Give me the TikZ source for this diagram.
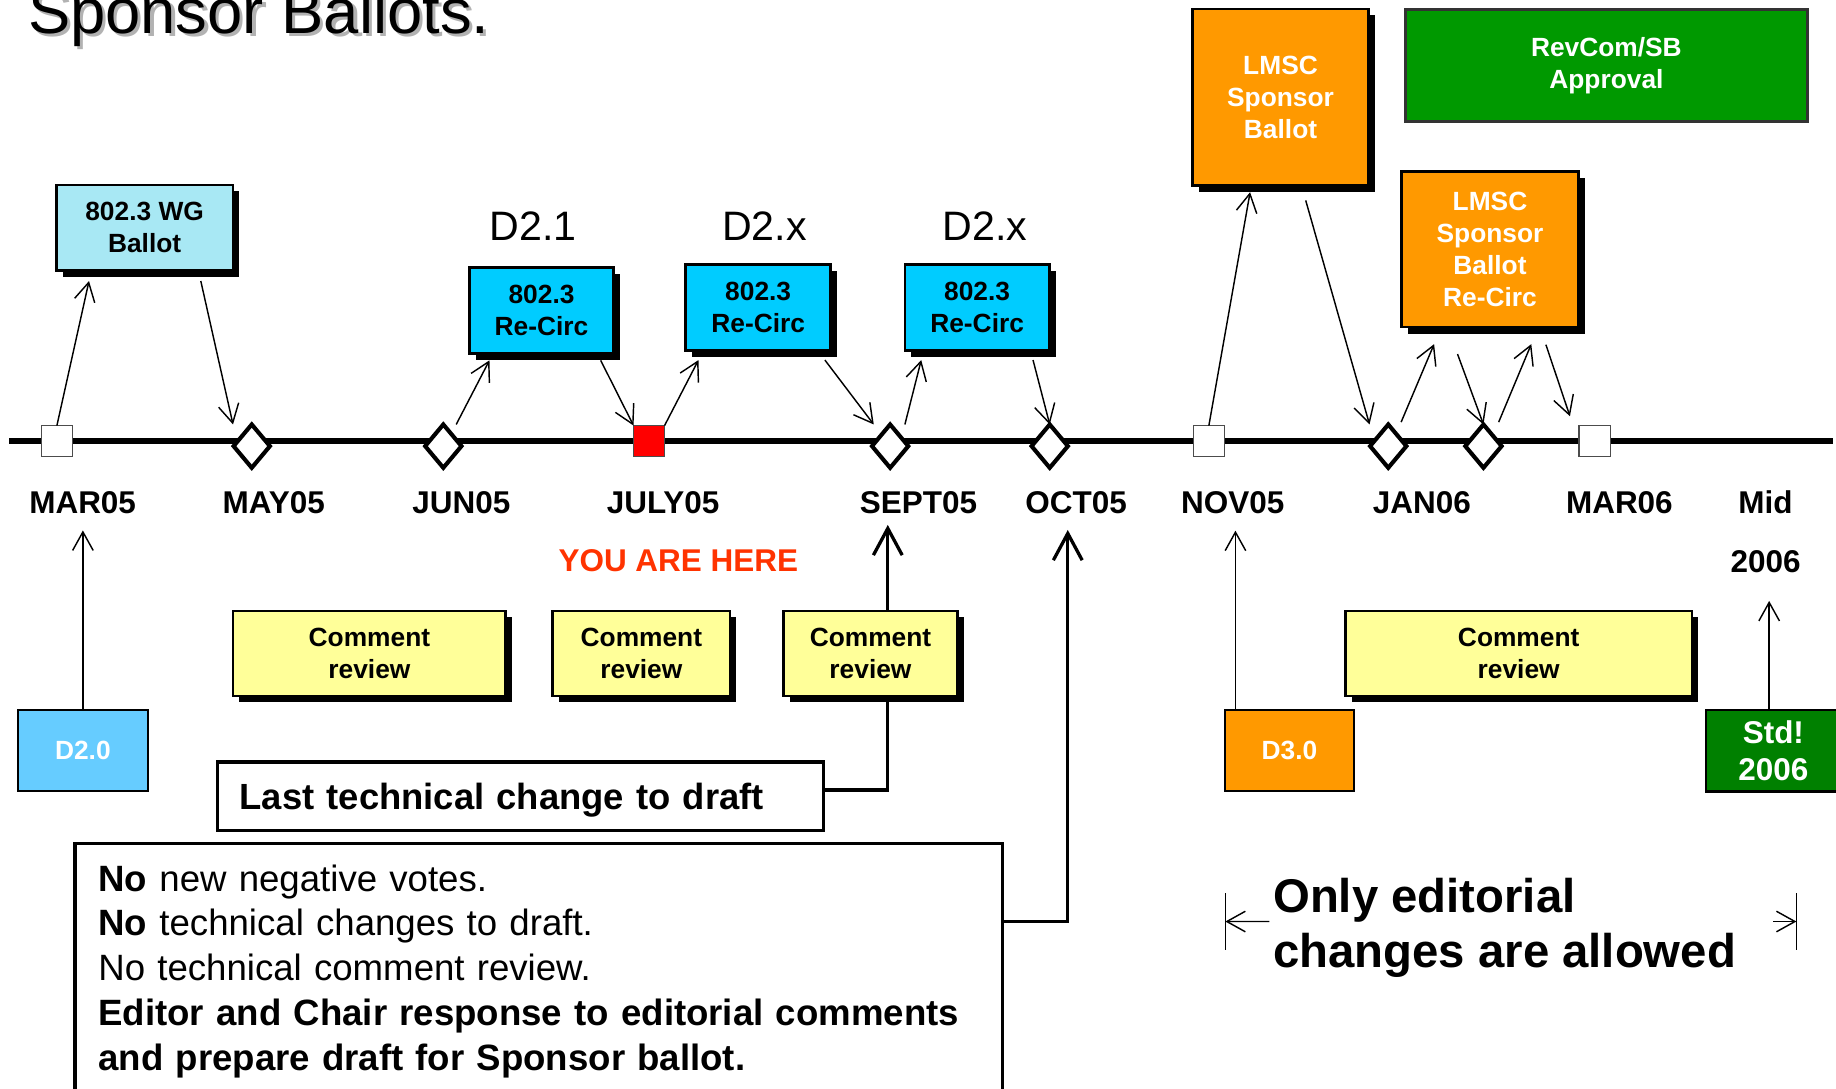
\documentclass[tikz,border=0pt]{standalone}
\usepackage{fontspec}
\setmainfont{Liberation Sans}
\usetikzlibrary{arrows.meta,shapes.geometric,shadows,calc,backgrounds}
\definecolor{wgblue}{RGB}{168,232,244}
\definecolor{rcblue}{RGB}{0,204,255}
\definecolor{dblue}{RGB}{102,204,255}
\definecolor{lmorange}{RGB}{255,153,0}
\definecolor{revgreen}{RGB}{0,153,0}
\definecolor{stdgreen}{RGB}{0,128,0}
\definecolor{cryellow}{RGB}{255,255,153}
\definecolor{herered}{RGB}{255,51,0}
\begin{document}
\begin{tikzpicture}[x=0.02cm, y=-0.02cm, >={Straight Barb[length=9pt,width=10pt]},
  lbl/.style={inner sep=0pt, font=\bfseries\fontsize{15.3}{18}\selectfont},
  dlbl/.style={inner sep=0pt, font=\fontsize{20}{24}\selectfont},
  box/.style={draw, line width=1.3pt, inner sep=0pt, outer sep=0pt, align=center,
    font=\bfseries\fontsize{12.8}{15.5}\selectfont},
  shbox/.style={box, drop shadow={shadow xshift=3.1pt, shadow yshift=-3.1pt, opacity=1, fill=black}},
  mk/.style={draw=black!70, fill=white, line width=0.8pt, minimum size=0.53cm, inner sep=0pt, outer sep=0pt},
  dia/.style={diamond, draw, fill=white, line width=2pt, minimum width=0.62cm, minimum height=0.74cm,
    inner sep=0pt, outer sep=0pt},
  arr/.style={->, line width=0.7pt},
  bigarr/.style={-{Straight Barb[length=13pt,width=14pt]}, line width=1.6pt}]
\useasboundingbox (0,0) rectangle (1568,930);

\node[anchor=base west, inner sep=0pt, text=black!30, font=\fontsize{30.8}{36}\selectfont] (titlesh) at (26.4,31.3) {Sponsor Ballots.};
\node[anchor=base west, inner sep=0pt, font=\fontsize{30.8}{36}\selectfont] (title) at (23.6,28.5) {Sponsor Ballots.};

% time line
\coordinate (tlS) at (8,376.7);
\coordinate (tlE) at (1565,376.7);
\draw[line width=2.6pt] (tlS) -- (tlE);

\node[mk] (m1) at (48.6,376.7) {};
\node[dia] (m2) at (215,381) {};
\node[dia] (m3) at (378.6,381) {};
\node[mk, fill=red] (m4) at (554.3,376.7) {};
\node[dia] (m5) at (760.2,381) {};
\node[dia] (m6) at (896.5,381) {};
\node[mk] (m7) at (1032.4,376.7) {};
\node[dia] (m8) at (1185.6,381) {};
\node[dia] (m9) at (1266.9,381) {};
\node[mk] (m10) at (1362,376.7) {};

\node[lbl] (l1) at (70.6,429) {MAR05};
\node[lbl] (l2) at (233.8,429) {MAY05};
\node[lbl] (l3) at (394,429) {JUN05};
\node[lbl] (l4) at (566.3,429) {JULY05};
\node[lbl] (l5) at (784.5,429) {SEPT05};
\node[lbl] (l6) at (919,429) {OCT05};
\node[lbl] (l7) at (1052.8,429) {NOV05};
\node[lbl] (l8) at (1214.4,429) {JAN06};
\node[lbl] (l9) at (1383,429) {MAR06};
\node[lbl, align=center, font=\bfseries\fontsize{15.3}{28.4}\selectfont] (l10) at (1507.8,454) {Mid\\2006};
\node[lbl, text=herered] (here) at (579.3,478.7) {YOU ARE HERE};

\node[dlbl] (d21) at (455.2,192.9) {D2.1};
\node[dlbl] (d2x) at (652.9,192.9) {D2.x};
\node[dlbl] (d2y) at (841.4,192.9) {D2.x};

% ballots
\node[shbox, fill=wgblue, minimum width=3.02cm, minimum height=1.46cm] (wg) at (123.5,194.5) {802.3 WG\\Ballot};
\node[shbox, fill=rcblue, minimum width=2.46cm, minimum height=1.47cm] (rc1) at (462.5,265) {802.3\\Re-Circ};
\node[shbox, fill=rcblue, minimum width=2.48cm, minimum height=1.47cm] (rc2) at (647.5,262.75) {802.3\\Re-Circ};
\node[shbox, fill=rcblue, minimum width=2.47cm, minimum height=1.47cm] (rc3) at (834.5,262.75) {802.3\\Re-Circ};
\node[shbox, fill=lmorange, text=white, minimum width=3cm, minimum height=3.01cm] (lmsc) at (1093.6,82.9) {LMSC\\Sponsor\\Ballot};
\node[box, fill=revgreen, draw=black!80, text=white, minimum width=6.86cm, minimum height=1.92cm] (rev) at (1371.9,56) {RevCom/SB\\Approval};
\node[shbox, fill=lmorange, text=white, minimum width=3.03cm, minimum height=2.66cm] (lrc) at (1272.5,212.9) {LMSC\\Sponsor\\Ballot\\Re-Circ};

% drafts and reviews
\node[box, fill=dblue, text=white, line width=1pt, minimum width=2.22cm, minimum height=1.39cm] (d20) at (70.8,641) {D2.0};
\node[box, fill=lmorange, text=white, line width=1pt, minimum width=2.19cm, minimum height=1.39cm] (d30) at (1101.2,641) {D3.0};
\node[box, fill=stdgreen, text=white, minimum width=2.3cm, minimum height=1.39cm,
  font=\bfseries\fontsize{15.3}{17.8}\selectfont] (std) at (1514.5,641) {Std!\\2006};
\node[shbox, fill=cryellow, minimum width=4.66cm, minimum height=1.45cm] (cr1) at (315.5,558.1) {Comment\\review};
\node[shbox, fill=cryellow, minimum width=3.03cm, minimum height=1.45cm] (cr2) at (547.75,558.1) {Comment\\review};
\node[shbox, fill=cryellow, minimum width=2.98cm, minimum height=1.45cm] (cr3) at (743.4,558.1) {Comment\\review};
\node[shbox, fill=cryellow, minimum width=5.92cm, minimum height=1.45cm] (cr4) at (1297,558.1) {Comment\\review};

\node[box, fill=white, line width=1.6pt, text width=9.6cm, align=left, inner xsep=0.378cm, minimum height=1.174cm,
  text depth=0pt, font=\bfseries\fontsize{17.7}{21}\selectfont] (last) at (444.7,680) {Last technical change to draft};
\node[box, fill=white, line width=1.6pt, text width=15.05cm, align=left, inner xsep=0.4cm, minimum height=4.372cm,
  font=\fontsize{17.8}{21.8}\selectfont] (big) at (460.2,829.5)
  {\textbf{No} new negative votes.\\
   \textbf{No} technical changes to draft.\\
   No technical comment review.\\
   \textbf{Editor and Chair response to editorial comments}\\
   \textbf{and prepare draft for Sponsor ballot.}};

\node[anchor=north west, inner sep=0pt, align=left, font=\bfseries\fontsize{23}{26.7}\selectfont] (ed) at (1087,749.5)
  {Only editorial\\changes are allowed};

% ballot arrows
\draw[arr] (m1.north) -- ($(wg.south west)+(28,9)$);
\draw[arr] ($(wg.south east)+(-27.5,9)$) -- ($(m2.north)+(-16,0)$);
\draw[arr] ($(m3.north)+(11,0)$) -- ($(rc1.south west)+(17,6)$);
\draw[arr] ($(rc1.south east)+(-11,6)$) -- (m4.north west);
\draw[arr] (m4.north east) -- ($(rc2.south west)+(11,8)$);
\draw[arr] ($(rc2.south east)+(-5,8)$) -- ($(m5.north)+(-14,0)$);
\draw[arr] ($(m5.north)+(12.6,0)$) -- ($(rc3.south west)+(14,8)$);
\draw[arr] ($(rc3.south east)+(-14,8)$) -- (m6.north);
\draw[arr] (m7.north) -- ($(lmsc.south west)+(49,6)$);
\draw[arr] ($(lmsc.south)+(21.5,13)$) -- ($(m8.north)+(-16,0)$);
\draw[arr] ($(m8.north)+(11,-2)$) -- ($(lrc.south west)+(28,14.5)$);
\draw[arr] ($(lrc.south west)+(48,23)$) -- (m9.north);
\draw[arr] ($(m9.north)+(13,-2)$) -- ($(lrc.south west)+(111,14.5)$);
\draw[arr] ($(lrc.south east)+(-28,15)$) -- ($(m10.north west)+(-8,-8)$);

\coordinate (t1) at (70.8,453);
\coordinate (t2) at (758.2,448.3);
\coordinate (t3) at (911.9,452.6);
\coordinate (t4) at (1055.1,453.2);
\coordinate (t5) at (1510.9,513.2);
\draw[arr] (t1 |- d20.north) -- (t1);
\begin{scope}[on background layer]
\draw[bigarr] ($(last.east)+(0,-5.4)$) -| (t2);
\end{scope}
\draw[bigarr] ($(big.east)+(0,-42.5)$) -| (t3);
\draw[arr] (t4 |- d30.north) -- (t4);
\draw[arr] (t5 |- std.north) -- (t5);

\coordinate (eL) at (1046.5,787);
\coordinate (eR) at (1534.2,787);
\draw[line width=0.7pt] ($(eL)+(0,-24)$) -- ($(eL)+(0,24)$);
\draw[line width=0.7pt] ($(eR)+(0,-24)$) -- ($(eR)+(0,24)$);
\draw[arr] ($(ed.north west)+(-3,37.5)$) -- (eL);
\draw[arr] ($(eR)+(-20,0)$) -- (eR);
\end{tikzpicture}
\end{document}
